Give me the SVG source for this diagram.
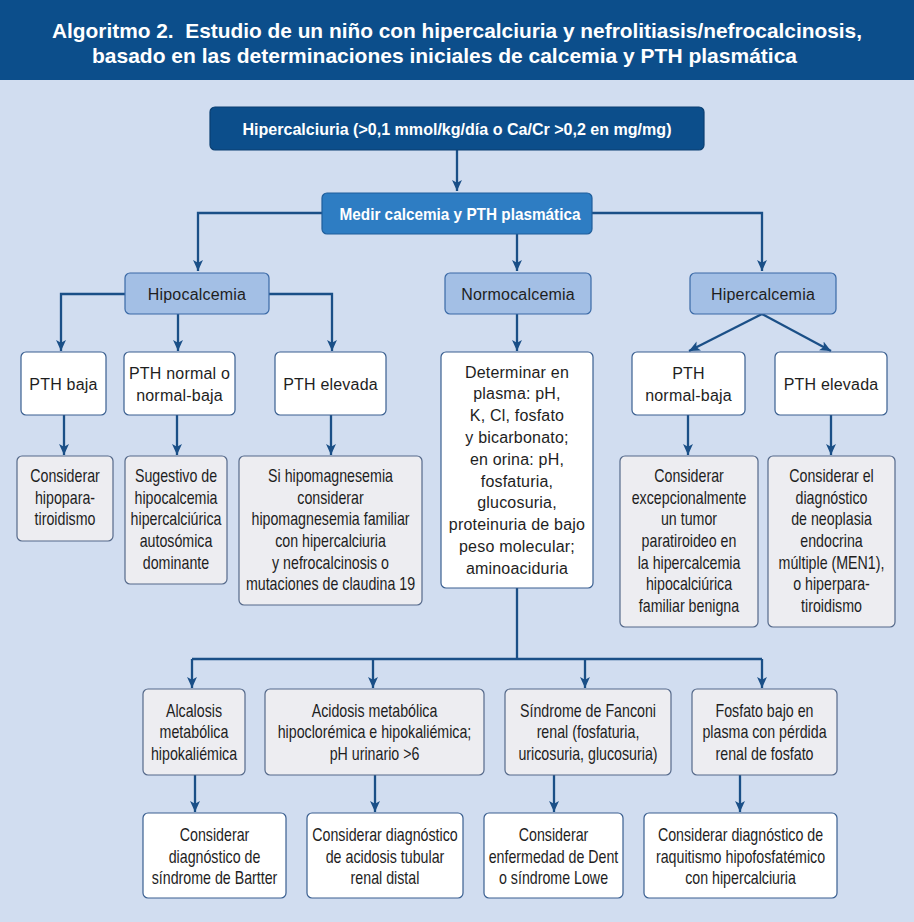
<svg xmlns="http://www.w3.org/2000/svg" width="914" height="922" viewBox="0 0 914 922">
<style>
.bd{fill:#0C4E8B;stroke:#0A3F72;stroke-width:1.2}
.bm{fill:#2E7DC3;stroke:#1F5E9C;stroke-width:1.2}
.bl{fill:#A3BFE5;stroke:#3A69A6;stroke-width:1.2}
.bw{fill:#FFFFFF;stroke:#3A5F90;stroke-width:1.2}
.bg{fill:#EDEDF1;stroke:#55698A;stroke-width:1.2}
.hb{font-family:"Liberation Sans",Arial,sans-serif;font-weight:bold;fill:#FFFFFF;text-anchor:middle}
.tn{font-family:"Liberation Sans",Arial,sans-serif;font-size:18px;fill:#1E1E1E;text-anchor:middle}
.tr{font-family:"Liberation Sans",Arial,sans-serif;font-size:16px;letter-spacing:0.2px;fill:#1E1E1E;text-anchor:middle}
.cn{fill:none;stroke:#1A4F87;stroke-width:2.3}
</style>
<defs>
<marker id="ah" viewBox="0 0 10 10" refX="10" refY="5" markerWidth="11" markerHeight="11" markerUnits="userSpaceOnUse" orient="auto">
<path d="M0,0.5 L10,5 L0,9.5 L2.5,5 z" fill="#1A4F87"/>
</marker>
</defs>
<rect x="0" y="0" width="914" height="922" fill="#D1DDF0"/>
<g id="header">
<rect x="0" y="0" width="914" height="80" fill="#0C4E8B"/>
<text class="hb" x="457" y="38" font-size="20.5" textLength="810" lengthAdjust="spacingAndGlyphs">Algoritmo 2.&#160; Estudio de un niño con hipercalciuria y nefrolitiasis/nefrocalcinosis,</text>
<text class="hb" x="444.5" y="62.5" font-size="20.5" textLength="705" lengthAdjust="spacingAndGlyphs">basado en las determinaciones iniciales de calcemia y PTH plasmática</text>
</g>
<g id="connectors">
<path class="cn" d="M457,150 V191" marker-end="url(#ah)"/>
<path class="cn" d="M322,213 H198 V271" marker-end="url(#ah)"/>
<path class="cn" d="M592,213 H762 V271" marker-end="url(#ah)"/>
<path class="cn" d="M517,234 V271" marker-end="url(#ah)"/>
<path class="cn" d="M125,294 H61 V351" marker-end="url(#ah)"/>
<path class="cn" d="M178,314 V351" marker-end="url(#ah)"/>
<path class="cn" d="M269,294 H332 V351" marker-end="url(#ah)"/>
<path class="cn" d="M64,415 V455" marker-end="url(#ah)"/>
<path class="cn" d="M177,415 V455" marker-end="url(#ah)"/>
<path class="cn" d="M331,415 V455" marker-end="url(#ah)"/>
<path class="cn" d="M517,314 V351" marker-end="url(#ah)"/>
<path class="cn" d="M762,314 L689,351" marker-end="url(#ah)"/>
<path class="cn" d="M762,314 L831,351" marker-end="url(#ah)"/>
<path class="cn" d="M688,415 V455" marker-end="url(#ah)"/>
<path class="cn" d="M831,415 V455" marker-end="url(#ah)"/>
<path class="cn" d="M517,588 V659 M192,659 H762"/>
<path class="cn" d="M192,659 V688" marker-end="url(#ah)"/>
<path class="cn" d="M373,659 V688" marker-end="url(#ah)"/>
<path class="cn" d="M585,659 V688" marker-end="url(#ah)"/>
<path class="cn" d="M762,659 V688" marker-end="url(#ah)"/>
<path class="cn" d="M195,775 V812" marker-end="url(#ah)"/>
<path class="cn" d="M375,775 V812" marker-end="url(#ah)"/>
<path class="cn" d="M554,775 V812" marker-end="url(#ah)"/>
<path class="cn" d="M740,775 V812" marker-end="url(#ah)"/>
</g>
<g id="n_hipercalciuria">
<rect class="bd" x="210" y="107" width="494" height="43" rx="5"/>
<text class="hb" x="457" y="134.5" font-size="17" textLength="429" lengthAdjust="spacingAndGlyphs">Hipercalciuria (&gt;0,1 mmol/kg/día o Ca/Cr &gt;0,2 en mg/mg)</text>
</g>
<g id="n_medir">
<rect class="bm" x="322" y="193" width="270" height="41" rx="5"/>
<text class="hb" x="460" y="220" font-size="17" textLength="241" lengthAdjust="spacingAndGlyphs">Medir calcemia y PTH plasmática</text>
</g>
<g id="n_hipocalcemia">
<rect class="bl" x="125" y="273" width="144" height="41" rx="5"/>
<text class="tr" x="197" y="299.5">Hipocalcemia</text>
</g>
<g id="n_normocalcemia">
<rect class="bl" x="445" y="273" width="146" height="41" rx="5"/>
<text class="tr" x="518" y="299.5">Normocalcemia</text>
</g>
<g id="n_hipercalcemia">
<rect class="bl" x="690" y="273" width="146" height="41" rx="5"/>
<text class="tr" x="763" y="299.5">Hipercalcemia</text>
</g>
<g id="n_pth_baja">
<rect class="bw" x="21" y="352" width="85" height="63" rx="5"/>
<text class="tr" x="63.5" y="389.5">PTH baja</text>
</g>
<g id="n_pth_normal">
<rect class="bw" x="124" y="352" width="111" height="63" rx="5"/>
<text class="tr" x="179.5" y="378.5">PTH normal o</text>
<text class="tr" x="179.5" y="400.5">normal-baja</text>
</g>
<g id="n_pth_elevada1">
<rect class="bw" x="275" y="352" width="111" height="63" rx="5"/>
<text class="tr" x="330.5" y="389.5">PTH elevada</text>
</g>
<g id="n_hipopara">
<rect class="bg" x="17" y="456" width="96" height="85" rx="5"/>
<g transform="translate(65 0) scale(0.79 1)">
<text class="tn" x="0" y="482">Considerar</text>
<text class="tn" x="0" y="503.7">hipopara-</text>
<text class="tn" x="0" y="525.4">tiroidismo</text>
</g>
</g>
<g id="n_sugestivo">
<rect class="bg" x="125" y="456" width="102" height="128" rx="5"/>
<g transform="translate(176 0) scale(0.79 1)">
<text class="tn" x="0" y="482">Sugestivo de</text>
<text class="tn" x="0" y="503.7">hipocalcemia</text>
<text class="tn" x="0" y="525.4">hipercalciúrica</text>
<text class="tn" x="0" y="547.1">autosómica</text>
<text class="tn" x="0" y="568.8">dominante</text>
</g>
</g>
<g id="n_hipomag">
<rect class="bg" x="239" y="456" width="183" height="149" rx="5"/>
<g transform="translate(330.5 0) scale(0.79 1)">
<text class="tn" x="0" y="482">Si hipomagnesemia</text>
<text class="tn" x="0" y="503.7">considerar</text>
<text class="tn" x="0" y="525.4">hipomagnesemia familiar</text>
<text class="tn" x="0" y="547.1">con hipercalciuria</text>
<text class="tn" x="0" y="568.8">y nefrocalcinosis o</text>
<text class="tn" x="0" y="590.5">mutaciones de claudina 19</text>
</g>
</g>
<g id="n_determinar">
<rect class="bw" x="441" y="352" width="152" height="236" rx="5"/>
<text class="tr" x="517" y="377.5">Determinar en</text>
<text class="tr" x="517" y="399.3">plasma: pH,</text>
<text class="tr" x="517" y="421.1">K, Cl, fosfato</text>
<text class="tr" x="517" y="442.9">y bicarbonato;</text>
<text class="tr" x="517" y="464.7">en orina: pH,</text>
<text class="tr" x="517" y="486.5">fosfaturia,</text>
<text class="tr" x="517" y="508.3">glucosuria,</text>
<text class="tr" x="517" y="530.1">proteinuria de bajo</text>
<text class="tr" x="517" y="551.9">peso molecular;</text>
<text class="tr" x="517" y="573.7">aminoaciduria</text>
</g>
<g id="n_pth_normalbaja">
<rect class="bw" x="632" y="352" width="113" height="63" rx="5"/>
<text class="tr" x="688.5" y="378.5">PTH</text>
<text class="tr" x="688.5" y="400.5">normal-baja</text>
</g>
<g id="n_pth_elevada2">
<rect class="bw" x="775" y="352" width="112" height="63" rx="5"/>
<text class="tr" x="831" y="389.5">PTH elevada</text>
</g>
<g id="n_tumor">
<rect class="bg" x="620" y="456" width="138" height="171" rx="5"/>
<g transform="translate(689 0) scale(0.79 1)">
<text class="tn" x="0" y="482">Considerar</text>
<text class="tn" x="0" y="503.7">excepcionalmente</text>
<text class="tn" x="0" y="525.4">un tumor</text>
<text class="tn" x="0" y="547.1">paratiroideo en</text>
<text class="tn" x="0" y="568.8">la hipercalcemia</text>
<text class="tn" x="0" y="590.5">hipocalciúrica</text>
<text class="tn" x="0" y="612.2">familiar benigna</text>
</g>
</g>
<g id="n_men1">
<rect class="bg" x="768" y="456" width="127" height="171" rx="5"/>
<g transform="translate(831.5 0) scale(0.79 1)">
<text class="tn" x="0" y="482">Considerar el</text>
<text class="tn" x="0" y="503.7">diagnóstico</text>
<text class="tn" x="0" y="525.4">de neoplasia</text>
<text class="tn" x="0" y="547.1">endocrina</text>
<text class="tn" x="0" y="568.8">múltiple (MEN1),</text>
<text class="tn" x="0" y="590.5">o hiperpara-</text>
<text class="tn" x="0" y="612.2">tiroidismo</text>
</g>
</g>
<g id="n_alcalosis">
<rect class="bg" x="143" y="689" width="102" height="86" rx="5"/>
<g transform="translate(194 0) scale(0.79 1)">
<text class="tn" x="0" y="717">Alcalosis</text>
<text class="tn" x="0" y="738.5">metabólica</text>
<text class="tn" x="0" y="760">hipokaliémica</text>
</g>
</g>
<g id="n_acidosis">
<rect class="bg" x="265" y="689" width="219" height="86" rx="5"/>
<g transform="translate(374.5 0) scale(0.79 1)">
<text class="tn" x="0" y="717">Acidosis metabólica</text>
<text class="tn" x="0" y="738.5">hipoclorémica e hipokaliémica;</text>
<text class="tn" x="0" y="760">pH urinario &gt;6</text>
</g>
</g>
<g id="n_fanconi">
<rect class="bg" x="505" y="689" width="166" height="86" rx="5"/>
<g transform="translate(588 0) scale(0.79 1)">
<text class="tn" x="0" y="717">Síndrome de Fanconi</text>
<text class="tn" x="0" y="738.5">renal (fosfaturia,</text>
<text class="tn" x="0" y="760">uricosuria, glucosuria)</text>
</g>
</g>
<g id="n_fosfato">
<rect class="bg" x="692" y="689" width="145" height="86" rx="5"/>
<g transform="translate(764.5 0) scale(0.79 1)">
<text class="tn" x="0" y="717">Fosfato bajo en</text>
<text class="tn" x="0" y="738.5">plasma con pérdida</text>
<text class="tn" x="0" y="760">renal de fosfato</text>
</g>
</g>
<g id="n_bartter">
<rect class="bw" x="143" y="813" width="143" height="85" rx="5"/>
<g transform="translate(214.5 0) scale(0.79 1)">
<text class="tn" x="0" y="841">Considerar</text>
<text class="tn" x="0" y="863">diagnóstico de</text>
<text class="tn" x="0" y="884">síndrome de Bartter</text>
</g>
</g>
<g id="n_atrd">
<rect class="bw" x="307" y="813" width="156" height="85" rx="5"/>
<g transform="translate(385 0) scale(0.79 1)">
<text class="tn" x="0" y="841">Considerar diagnóstico</text>
<text class="tn" x="0" y="863">de acidosis tubular</text>
<text class="tn" x="0" y="884">renal distal</text>
</g>
</g>
<g id="n_dent">
<rect class="bw" x="484" y="813" width="139" height="85" rx="5"/>
<g transform="translate(553.5 0) scale(0.79 1)">
<text class="tn" x="0" y="841">Considerar</text>
<text class="tn" x="0" y="863">enfermedad de Dent</text>
<text class="tn" x="0" y="884">o síndrome Lowe</text>
</g>
</g>
<g id="n_raquitismo">
<rect class="bw" x="644" y="813" width="193" height="85" rx="5"/>
<g transform="translate(740.5 0) scale(0.79 1)">
<text class="tn" x="0" y="841">Considerar diagnóstico de</text>
<text class="tn" x="0" y="863">raquitismo hipofosfatémico</text>
<text class="tn" x="0" y="884">con hipercalciuria</text>
</g>
</g>
</svg>
